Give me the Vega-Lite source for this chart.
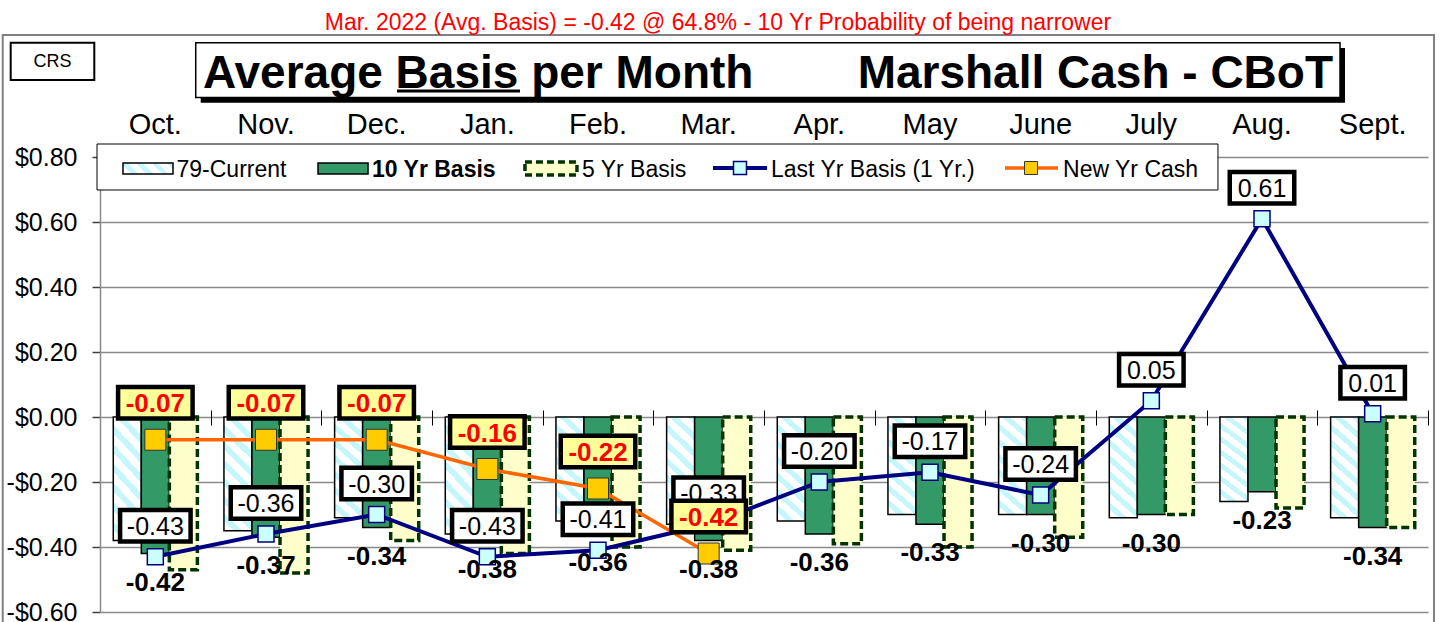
{
  "$schema": "https://vega.github.io/schema/vega-lite/v6.json",
  "width": 1328,
  "height": 455,
  "autosize": {"type": "none"},
  "padding": {"left": 100, "top": 157, "right": 12, "bottom": 10},
  "background": "white",
  "config": {
    "font": "Liberation Sans",
    "view": {"stroke": null},
    "locale": {"number": {"decimal": ".", "thousands": ",", "grouping": [3], "currency": ["$", ""], "minus": "-"}}
  },
  "datasets": {
    "bars": [
      {"month": "Oct.", "series": "79-Current", "value": -0.38},
      {"month": "Oct.", "series": "10 Yr Basis", "value": -0.42},
      {"month": "Oct.", "series": "5 Yr Basis", "value": -0.47},
      {"month": "Nov.", "series": "79-Current", "value": -0.35},
      {"month": "Nov.", "series": "10 Yr Basis", "value": -0.37},
      {"month": "Nov.", "series": "5 Yr Basis", "value": -0.48},
      {"month": "Dec.", "series": "79-Current", "value": -0.31},
      {"month": "Dec.", "series": "10 Yr Basis", "value": -0.34},
      {"month": "Dec.", "series": "5 Yr Basis", "value": -0.38},
      {"month": "Jan.", "series": "79-Current", "value": -0.36},
      {"month": "Jan.", "series": "10 Yr Basis", "value": -0.38},
      {"month": "Jan.", "series": "5 Yr Basis", "value": -0.42},
      {"month": "Feb.", "series": "79-Current", "value": -0.32},
      {"month": "Feb.", "series": "10 Yr Basis", "value": -0.36},
      {"month": "Feb.", "series": "5 Yr Basis", "value": -0.40},
      {"month": "Mar.", "series": "79-Current", "value": -0.33},
      {"month": "Mar.", "series": "10 Yr Basis", "value": -0.38},
      {"month": "Mar.", "series": "5 Yr Basis", "value": -0.41},
      {"month": "Apr.", "series": "79-Current", "value": -0.32},
      {"month": "Apr.", "series": "10 Yr Basis", "value": -0.36},
      {"month": "Apr.", "series": "5 Yr Basis", "value": -0.39},
      {"month": "May", "series": "79-Current", "value": -0.30},
      {"month": "May", "series": "10 Yr Basis", "value": -0.33},
      {"month": "May", "series": "5 Yr Basis", "value": -0.40},
      {"month": "June", "series": "79-Current", "value": -0.30},
      {"month": "June", "series": "10 Yr Basis", "value": -0.30},
      {"month": "June", "series": "5 Yr Basis", "value": -0.37},
      {"month": "July", "series": "79-Current", "value": -0.31},
      {"month": "July", "series": "10 Yr Basis", "value": -0.30},
      {"month": "July", "series": "5 Yr Basis", "value": -0.30},
      {"month": "Aug.", "series": "79-Current", "value": -0.26},
      {"month": "Aug.", "series": "10 Yr Basis", "value": -0.23},
      {"month": "Aug.", "series": "5 Yr Basis", "value": -0.28},
      {"month": "Sept.", "series": "79-Current", "value": -0.31},
      {"month": "Sept.", "series": "10 Yr Basis", "value": -0.34},
      {"month": "Sept.", "series": "5 Yr Basis", "value": -0.34}
    ],
    "lines": [
      {"month": "Oct.", "ly": -0.43, "ny": -0.07},
      {"month": "Nov.", "ly": -0.36, "ny": -0.07},
      {"month": "Dec.", "ly": -0.30, "ny": -0.07},
      {"month": "Jan.", "ly": -0.43, "ny": -0.16},
      {"month": "Feb.", "ly": -0.41, "ny": -0.22},
      {"month": "Mar.", "ly": -0.33, "ny": -0.42},
      {"month": "Apr.", "ly": -0.20, "ny": null},
      {"month": "May", "ly": -0.17, "ny": null},
      {"month": "June", "ly": -0.24, "ny": null},
      {"month": "July", "ly": 0.05, "ny": null},
      {"month": "Aug.", "ly": 0.61, "ny": null},
      {"month": "Sept.", "ly": 0.01, "ny": null}
    ]
  },
  "resolve": {"scale": {"x": "independent"}, "axis": {"x": "independent"}},
  "layer": [
    {
      "layer": [
        {
          "data": {"name": "bars"},
          "transform": [{"filter": "datum.series === '79-Current'"}],
          "mark": {"type": "bar", "stroke": "black", "strokeWidth": 1.5,
            "fill": {"gradient": "linear", "x1": 0, "y1": 1, "x2": 0.29, "y2": -0.18, "stops": [
              {"offset": 0, "color": "#ffffff"}, {"offset": 0.06875, "color": "#ffffff"}, {"offset": 0.06875, "color": "#c4f6fb"}, {"offset": 0.125, "color": "#c4f6fb"},
              {"offset": 0.125, "color": "#ffffff"}, {"offset": 0.19375, "color": "#ffffff"}, {"offset": 0.19375, "color": "#c4f6fb"}, {"offset": 0.25, "color": "#c4f6fb"},
              {"offset": 0.25, "color": "#ffffff"}, {"offset": 0.31875, "color": "#ffffff"}, {"offset": 0.31875, "color": "#c4f6fb"}, {"offset": 0.375, "color": "#c4f6fb"},
              {"offset": 0.375, "color": "#ffffff"}, {"offset": 0.44375, "color": "#ffffff"}, {"offset": 0.44375, "color": "#c4f6fb"}, {"offset": 0.5, "color": "#c4f6fb"},
              {"offset": 0.5, "color": "#ffffff"}, {"offset": 0.56875, "color": "#ffffff"}, {"offset": 0.56875, "color": "#c4f6fb"}, {"offset": 0.625, "color": "#c4f6fb"},
              {"offset": 0.625, "color": "#ffffff"}, {"offset": 0.69375, "color": "#ffffff"}, {"offset": 0.69375, "color": "#c4f6fb"}, {"offset": 0.75, "color": "#c4f6fb"},
              {"offset": 0.75, "color": "#ffffff"}, {"offset": 0.81875, "color": "#ffffff"}, {"offset": 0.81875, "color": "#c4f6fb"}, {"offset": 0.875, "color": "#c4f6fb"},
              {"offset": 0.875, "color": "#ffffff"}, {"offset": 0.94375, "color": "#ffffff"}, {"offset": 0.94375, "color": "#c4f6fb"}, {"offset": 1, "color": "#c4f6fb"}
            ]}},
          "encoding": {
            "x": {"field": "month", "type": "nominal", "title": null,
              "scale": {"domain": ["Oct.", "Nov.", "Dec.", "Jan.", "Feb.", "Mar.", "Apr.", "May", "June", "July", "Aug.", "Sept."], "paddingInner": 0.24, "paddingOuter": 0.12},
              "axis": {"orient": "top", "domain": false, "ticks": false, "tickSize": 0, "grid": false, "labelAngle": 0, "labelFontSize": 29, "labelColor": "black", "labelFont": "Liberation Sans", "labelPadding": 18, "title": null}},
            "xOffset": {"field": "series", "type": "nominal", "title": null, "scale": {"domain": ["79-Current", "10 Yr Basis", "5 Yr Basis"], "paddingInner": 0, "paddingOuter": 0}},
            "y": {"field": "value", "type": "quantitative", "title": null,
              "scale": {"domain": [-0.6, 0.8], "nice": false, "zero": false},
              "axis": {"values": [-0.6, -0.4, -0.2, 0, 0.2, 0.4, 0.6, 0.8], "format": "$.2f", "grid": true, "gridColor": "#8a8a8a", "gridWidth": 1.5,
                "domainColor": "#8a8a8a", "domainWidth": 1.5, "tickColor": "#404040", "tickSize": 8, "tickWidth": 1.5,
                "labelFontSize": 25, "labelColor": "black", "labelFont": "Liberation Sans", "labelPadding": 15, "title": null}}
          }
        },
        {
          "data": {"name": "bars"},
          "transform": [{"filter": "datum.series === '10 Yr Basis'"}],
          "mark": {"type": "bar", "fill": "#339966", "stroke": "black", "strokeWidth": 1.5},
          "encoding": {
            "x": {"field": "month", "type": "nominal", "title": null, "scale": {"domain": ["Oct.", "Nov.", "Dec.", "Jan.", "Feb.", "Mar.", "Apr.", "May", "June", "July", "Aug.", "Sept."]}},
            "xOffset": {"field": "series", "type": "nominal", "title": null, "scale": {"domain": ["79-Current", "10 Yr Basis", "5 Yr Basis"]}},
            "y": {"field": "value", "type": "quantitative", "title": null}
          }
        },
        {
          "data": {"name": "bars"},
          "transform": [{"filter": "datum.series === '5 Yr Basis'"}],
          "mark": {"type": "bar", "fill": "#ffffcc", "stroke": "#003300", "strokeWidth": 3.5, "strokeDash": [8, 4]},
          "encoding": {
            "x": {"field": "month", "type": "nominal", "title": null, "scale": {"domain": ["Oct.", "Nov.", "Dec.", "Jan.", "Feb.", "Mar.", "Apr.", "May", "June", "July", "Aug.", "Sept."]}},
            "xOffset": {"field": "series", "type": "nominal", "title": null, "scale": {"domain": ["79-Current", "10 Yr Basis", "5 Yr Basis"]}},
            "y": {"field": "value", "type": "quantitative", "title": null}
          }
        },
        {
          "data": {"name": "lines"},
          "mark": {"type": "line", "stroke": "#000080", "strokeWidth": 4},
          "encoding": {
            "x": {"field": "month", "type": "nominal", "title": null, "scale": {"domain": ["Oct.", "Nov.", "Dec.", "Jan.", "Feb.", "Mar.", "Apr.", "May", "June", "July", "Aug.", "Sept."]}},
            "y": {"field": "ly", "type": "quantitative", "title": null}
          }
        },
        {
          "data": {"name": "lines"},
          "mark": {"type": "point", "shape": "square", "filled": true, "fill": "#ccffff", "stroke": "#000080", "strokeWidth": 1.5, "size": 256, "opacity": 1},
          "encoding": {
            "x": {"field": "month", "type": "nominal", "title": null, "scale": {"domain": ["Oct.", "Nov.", "Dec.", "Jan.", "Feb.", "Mar.", "Apr.", "May", "June", "July", "Aug.", "Sept."]}},
            "y": {"field": "ly", "type": "quantitative", "title": null}
          }
        },
        {
          "data": {"name": "lines"},
          "transform": [{"filter": "datum.ny != null"}],
          "mark": {"type": "line", "stroke": "#ff6600", "strokeWidth": 3.5},
          "encoding": {
            "x": {"field": "month", "type": "nominal", "title": null, "scale": {"domain": ["Oct.", "Nov.", "Dec.", "Jan.", "Feb.", "Mar.", "Apr.", "May", "June", "July", "Aug.", "Sept."]}},
            "y": {"field": "ny", "type": "quantitative", "title": null}
          }
        },
        {
          "data": {"name": "lines"},
          "transform": [{"filter": "datum.ny != null"}],
          "mark": {"type": "point", "shape": "square", "filled": true, "fill": "#ffcc00", "stroke": "#333333", "strokeWidth": 1, "size": 441, "opacity": 1},
          "encoding": {
            "x": {"field": "month", "type": "nominal", "title": null, "scale": {"domain": ["Oct.", "Nov.", "Dec.", "Jan.", "Feb.", "Mar.", "Apr.", "May", "June", "July", "Aug.", "Sept."]}},
            "y": {"field": "ny", "type": "quantitative", "title": null}
          }
        },
        {
          "data": {"name": "bars"},
          "transform": [{"filter": "datum.series === '10 Yr Basis'"}],
          "mark": {"type": "text", "fontSize": 26, "fontWeight": "bold", "color": "black", "baseline": "middle", "align": "center", "dy": 29},
          "encoding": {
            "x": {"field": "month", "type": "nominal", "title": null, "scale": {"domain": ["Oct.", "Nov.", "Dec.", "Jan.", "Feb.", "Mar.", "Apr.", "May", "June", "July", "Aug.", "Sept."]}},
            "y": {"field": "value", "type": "quantitative", "title": null},
            "text": {"field": "value", "type": "quantitative", "format": ".2f"}
          }
        },
        {
          "data": {"name": "lines"},
          "mark": {"type": "point", "size": 4, "filled": true, "fill": "white", "stroke": "black", "strokeWidth": 4.5, "opacity": 1, "yOffset": -31},
          "encoding": {
            "x": {"field": "month", "type": "nominal", "title": null, "scale": {"domain": ["Oct.", "Nov.", "Dec.", "Jan.", "Feb.", "Mar.", "Apr.", "May", "June", "July", "Aug.", "Sept."]}},
            "y": {"field": "ly", "type": "quantitative", "title": null},
            "shape": {"condition": {"test": "datum.ly >= 0", "value": "M-32.25,-15.75L32.25,-15.75L32.25,15.75L-32.25,15.75Z"}, "value": "M-35.25,-15.75L35.25,-15.75L35.25,15.75L-35.25,15.75Z"}
          }
        },
        {
          "data": {"name": "lines"},
          "mark": {"type": "text", "fontSize": 25, "color": "black", "baseline": "middle", "align": "center", "dy": -30},
          "encoding": {
            "x": {"field": "month", "type": "nominal", "title": null, "scale": {"domain": ["Oct.", "Nov.", "Dec.", "Jan.", "Feb.", "Mar.", "Apr.", "May", "June", "July", "Aug.", "Sept."]}},
            "y": {"field": "ly", "type": "quantitative", "title": null},
            "text": {"field": "ly", "type": "quantitative", "format": ".2f"}
          }
        },
        {
          "data": {"name": "lines"},
          "transform": [{"filter": "datum.ny != null"}],
          "mark": {"type": "point", "size": 4, "shape": "M-37.25,-15.75L37.25,-15.75L37.25,15.75L-37.25,15.75Z", "filled": true, "fill": "#ffff99", "stroke": "black", "strokeWidth": 4.5, "opacity": 1, "yOffset": -37},
          "encoding": {
            "x": {"field": "month", "type": "nominal", "title": null, "scale": {"domain": ["Oct.", "Nov.", "Dec.", "Jan.", "Feb.", "Mar.", "Apr.", "May", "June", "July", "Aug.", "Sept."]}},
            "y": {"field": "ny", "type": "quantitative", "title": null}
          }
        },
        {
          "data": {"name": "lines"},
          "transform": [{"filter": "datum.ny != null"}],
          "mark": {"type": "text", "fontSize": 26, "fontWeight": "bold", "color": "#ff0000", "baseline": "middle", "align": "center", "dy": -35.5},
          "encoding": {
            "x": {"field": "month", "type": "nominal", "title": null, "scale": {"domain": ["Oct.", "Nov.", "Dec.", "Jan.", "Feb.", "Mar.", "Apr.", "May", "June", "July", "Aug.", "Sept."]}},
            "y": {"field": "ny", "type": "quantitative", "title": null},
            "text": {"field": "ny", "type": "quantitative", "format": ".2f"}
          }
        }
      ]
    },
    {
      "data": {"values": [{}]},
      "layer": [
        {
          "mark": {"type": "rect", "fill": "transparent", "stroke": "#808080", "strokeWidth": 2},
          "encoding": {
            "x": {"datum": -0.879, "type": "quantitative",
              "scale": {"domain": [0, 12], "nice": false, "zero": false},
              "axis": {"orient": "top", "offset": -268, "values": [0, 1, 2, 3, 4, 5, 6, 7, 8, 9, 10, 11, 12], "labels": false, "domain": false, "grid": false, "ticks": true, "tickSize": 15, "tickColor": "black", "tickWidth": 1, "title": null}},
            "x2": {"datum": 12.054},
            "y": {"datum": 1.1754, "type": "quantitative"},
            "y2": {"datum": -0.655}
          }
        },
        {
          "mark": {"type": "rect", "fill": "black"},
          "encoding": {
            "x": {"datum": 0.910, "type": "quantitative"}, "x2": {"datum": 11.250},
            "y": {"datum": 1.1354, "type": "quantitative"}, "y2": {"datum": 0.9671}
          }
        },
        {
          "mark": {"type": "rect", "fill": "white", "stroke": "black", "strokeWidth": 1.5},
          "encoding": {
            "x": {"datum": 0.865, "type": "quantitative"}, "x2": {"datum": 11.205},
            "y": {"datum": 1.1517, "type": "quantitative"}, "y2": {"datum": 0.9831}
          }
        },
        {
          "mark": {"type": "text", "text": "Average Basis per Month", "fontSize": 46, "fontWeight": "bold", "color": "black", "align": "left", "baseline": "alphabetic"},
          "encoding": {"x": {"datum": 0.9307, "type": "quantitative"}, "y": {"datum": 1.0138, "type": "quantitative"}}
        },
        {
          "mark": {"type": "text", "text": "Marshall Cash - CBoT", "fontSize": 46, "fontWeight": "bold", "color": "black", "align": "right", "baseline": "alphabetic"},
          "encoding": {"x": {"datum": 11.142, "type": "quantitative"}, "y": {"datum": 1.0138, "type": "quantitative"}}
        },
        {
          "mark": {"type": "rule", "stroke": "black", "strokeWidth": 3},
          "encoding": {"x": {"datum": 2.684, "type": "quantitative"}, "x2": {"datum": 3.795}, "y": {"datum": 1.0031, "type": "quantitative"}}
        },
        {
          "mark": {"type": "rect", "fill": "white", "stroke": "black", "strokeWidth": 2},
          "encoding": {
            "x": {"datum": -0.807, "type": "quantitative"}, "x2": {"datum": -0.0515},
            "y": {"datum": 1.1517, "type": "quantitative"}, "y2": {"datum": 1.0369}
          }
        },
        {
          "mark": {"type": "text", "text": "CRS", "fontSize": 18, "color": "black", "align": "center", "baseline": "middle"},
          "encoding": {"x": {"datum": -0.429, "type": "quantitative"}, "y": {"datum": 1.0914, "type": "quantitative"}}
        },
        {
          "mark": {"type": "text", "text": "Mar. 2022 (Avg. Basis) = -0.42 @ 64.8% - 10 Yr Probability of being narrower", "fontSize": 23, "color": "#ff0000", "align": "center", "baseline": "middle"},
          "encoding": {"x": {"datum": 5.584, "type": "quantitative"}, "y": {"datum": 1.2135, "type": "quantitative"}}
        },
        {
          "mark": {"type": "rect", "fill": "white", "stroke": "black", "strokeWidth": 1},
          "encoding": {
            "x": {"datum": -0.0271, "type": "quantitative"}, "x2": {"datum": 10.102},
            "y": {"datum": 0.84, "type": "quantitative"}, "y2": {"datum": 0.6985}
          }
        },
        {
          "mark": {"type": "rect", "stroke": "black", "strokeWidth": 1.5,
            "fill": {"gradient": "linear", "x1": 0, "y1": 1, "x2": 1.164, "y2": 0.744, "stops": [
              {"offset": 0, "color": "#ffffff"}, {"offset": 0.14, "color": "#ffffff"}, {"offset": 0.14, "color": "#c4f6fb"}, {"offset": 0.25, "color": "#c4f6fb"},
              {"offset": 0.25, "color": "#ffffff"}, {"offset": 0.39, "color": "#ffffff"}, {"offset": 0.39, "color": "#c4f6fb"}, {"offset": 0.5, "color": "#c4f6fb"},
              {"offset": 0.5, "color": "#ffffff"}, {"offset": 0.64, "color": "#ffffff"}, {"offset": 0.64, "color": "#c4f6fb"}, {"offset": 0.75, "color": "#c4f6fb"},
              {"offset": 0.75, "color": "#ffffff"}, {"offset": 0.89, "color": "#ffffff"}, {"offset": 0.89, "color": "#c4f6fb"}, {"offset": 1, "color": "#c4f6fb"}
            ]}},
          "encoding": {
            "x": {"datum": 0.2078, "type": "quantitative"}, "x2": {"datum": 0.6596},
            "y": {"datum": 0.7815, "type": "quantitative"}, "y2": {"datum": 0.7477}
          }
        },
        {
          "mark": {"type": "text", "text": "79-Current", "fontSize": 23, "color": "black", "align": "left", "baseline": "middle"},
          "encoding": {"x": {"datum": 0.6913, "type": "quantitative"}, "y": {"datum": 0.7612, "type": "quantitative"}}
        },
        {
          "mark": {"type": "rect", "fill": "#339966", "stroke": "black", "strokeWidth": 1.5},
          "encoding": {
            "x": {"datum": 1.970, "type": "quantitative"}, "x2": {"datum": 2.422},
            "y": {"datum": 0.7815, "type": "quantitative"}, "y2": {"datum": 0.7477}
          }
        },
        {
          "mark": {"type": "text", "text": "10 Yr Basis", "fontSize": 23, "fontWeight": "bold", "color": "black", "align": "left", "baseline": "middle"},
          "encoding": {"x": {"datum": 2.458, "type": "quantitative"}, "y": {"datum": 0.7612, "type": "quantitative"}}
        },
        {
          "mark": {"type": "rect", "fill": "#ffffcc", "stroke": "#003300", "strokeWidth": 3.5, "strokeDash": [7, 4]},
          "encoding": {
            "x": {"datum": 3.840, "type": "quantitative"}, "x2": {"datum": 4.310},
            "y": {"datum": 0.7846, "type": "quantitative"}, "y2": {"datum": 0.7446}
          }
        },
        {
          "mark": {"type": "text", "text": "5 Yr Basis", "fontSize": 23, "color": "black", "align": "left", "baseline": "middle"},
          "encoding": {"x": {"datum": 4.355, "type": "quantitative"}, "y": {"datum": 0.7612, "type": "quantitative"}}
        },
        {
          "mark": {"type": "rule", "stroke": "#000080", "strokeWidth": 4},
          "encoding": {"x": {"datum": 5.539, "type": "quantitative"}, "x2": {"datum": 6.027}, "y": {"datum": 0.7662, "type": "quantitative"}}
        },
        {
          "mark": {"type": "point", "shape": "square", "filled": true, "fill": "#ccffff", "stroke": "#000080", "strokeWidth": 1.5, "size": 169, "opacity": 1},
          "encoding": {"x": {"datum": 5.783, "type": "quantitative"}, "y": {"datum": 0.7662, "type": "quantitative"}}
        },
        {
          "mark": {"type": "text", "text": "Last Yr Basis (1 Yr.)", "fontSize": 23, "color": "black", "align": "left", "baseline": "middle"},
          "encoding": {"x": {"datum": 6.063, "type": "quantitative"}, "y": {"datum": 0.7612, "type": "quantitative"}}
        },
        {
          "mark": {"type": "rule", "stroke": "#ff6600", "strokeWidth": 3.5},
          "encoding": {"x": {"datum": 8.178, "type": "quantitative"}, "x2": {"datum": 8.657}, "y": {"datum": 0.7662, "type": "quantitative"}}
        },
        {
          "mark": {"type": "point", "shape": "square", "filled": true, "fill": "#ffcc00", "stroke": "#333333", "strokeWidth": 1, "size": 169, "opacity": 1},
          "encoding": {"x": {"datum": 8.413, "type": "quantitative"}, "y": {"datum": 0.7662, "type": "quantitative"}}
        },
        {
          "mark": {"type": "text", "text": "New Yr Cash", "fontSize": 23, "color": "black", "align": "left", "baseline": "middle"},
          "encoding": {"x": {"datum": 8.702, "type": "quantitative"}, "y": {"datum": 0.7612, "type": "quantitative"}}
        }
      ]
    }
  ]
}
